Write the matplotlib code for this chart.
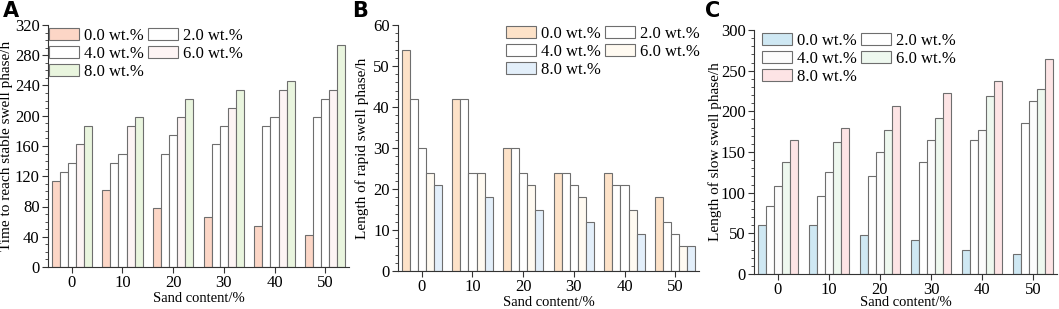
import numpy as np
import matplotlib
matplotlib.use("Agg")
import matplotlib.pyplot as plt
from matplotlib.ticker import MultipleLocator

# data
sand = [0, 10, 20, 30, 40, 50]
labels = ["0.0 wt.%", "2.0 wt.%", "4.0 wt.%", "6.0 wt.%", "8.0 wt.%"]

# A: time to reach stable swell phase (h), one list per wt.%
a_00 = [114, 102, 78, 66, 54, 42]
a_20 = [126, 138, 150, 162, 186, 198]
a_40 = [138, 150, 174, 186, 198, 222]
a_60 = [162, 186, 198, 210, 234, 234]
a_80 = [186, 198, 222, 234, 246, 294]

# B: length of rapid swell phase (h)
b_00 = [54, 42, 30, 24, 24, 18]
b_20 = [42, 42, 30, 24, 21, 12]
b_40 = [30, 24, 24, 21, 21, 9]
b_60 = [24, 24, 21, 18, 15, 6]
b_80 = [21, 18, 15, 12, 9, 6]

# C: length of slow swell phase (h)
c_00 = [60, 60, 48, 42, 30, 24]
c_20 = [84, 96, 120, 138, 165, 186]
c_40 = [108, 126, 150, 165, 177, 213]
c_60 = [138, 162, 177, 192, 219, 228]
c_80 = [165, 180, 207, 222, 237, 264]

plt.rcParams['font.family'] = ['Liberation Serif', 'DejaVu Serif']

W, H = 1059, 309
fig = plt.figure(figsize=(W / 100, H / 100), dpi=100)

# letter, series, colours, ylabel, ymax, major, minor,
# axes box (left, top, right, bottom in px), ylabel x px, xlabel y px,
# legend anchor (x, y in px, loc), letter x px
panels = [
    ("A", [a_00, a_20, a_40, a_60, a_80],
     ['#fcd6c6', '#ffffff', '#ffffff', '#fdf4f4', '#e9f5de'],
     "Time to reach stable swell phase/h", 320, 40, 10,
     (48, 25, 349, 267), 7, 298, (49, 28, 'upper left'), 3),
    ("B", [b_00, b_20, b_40, b_60, b_80],
     ['#fde2c8', '#ffffff', '#ffffff', '#fffaf1', '#e3effa'],
     "Length of rapid swell phase/h", 60, 10, 2,
     (398, 25, 699, 271), 362, 302, (700, 26, 'upper right'), 352),
    ("C", [c_00, c_20, c_40, c_60, c_80],
     ['#cfe8f3', '#ffffff', '#fcfcfc', '#eef8ef', '#fde4e5'],
     "Length of slow swell phase/h", 300, 50, 10,
     (754, 30, 1057, 274), 715, 302, (762, 33, 'upper left'), 705),
]

width = 1.6
x = np.array(sand, dtype=float)
order = [0, 2, 4, 1, 3]  # fill legend row by row

for (letter, series, colors, ylabel, ymax, major, minor, box, ylx, xly,
     leg, lx) in panels:
    l, t, r, b = box
    ax = fig.add_axes([l / W, 1 - b / H, (r - l) / W, (b - t) / H])
    for i, vals in enumerate(series):
        ax.bar(x + (i - 2) * width, vals, width, color=colors[i],
               edgecolor='#6e6e6e', linewidth=0.8, label=labels[i])
    ax.set_xlim(-4.7, 54.7)
    ax.set_ylim(0, ymax)
    ax.yaxis.set_major_locator(MultipleLocator(major))
    ax.yaxis.set_minor_locator(MultipleLocator(minor))
    ax.set_xticks(sand)
    ax.spines['top'].set_visible(False)
    ax.spines['right'].set_visible(False)
    for s in ['left', 'bottom']:
        ax.spines[s].set_color('#333333')
        ax.spines[s].set_linewidth(0.8)
    ax.tick_params(axis='both', which='major', labelsize=12, length=4,
                   width=0.8, color='#333333')
    ax.tick_params(axis='x', which='major', pad=1.5)
    ax.tick_params(axis='y', which='major', pad=2)
    ax.tick_params(axis='y', which='minor', length=2, width=0.6,
                   color='#333333')
    ax.set_xlabel("Sand content/%", fontsize=10.5, va='center')
    ax.xaxis.set_label_coords(0.5, -(xly - b) / (b - t))
    ax.set_ylabel(ylabel, fontsize=11, va='center')
    ax.yaxis.set_label_coords(-(l - ylx) / (r - l), 0.5)
    h_, l_ = ax.get_legend_handles_labels()
    ax.legend([h_[k] for k in order], [l_[k] for k in order], loc=leg[2],
              bbox_to_anchor=(leg[0] / W, 1 - leg[1] / H),
              bbox_transform=fig.transFigure,
              ncol=2, frameon=False, fontsize=12, borderpad=0,
              handlelength=1.8, handleheight=0.72, handletextpad=0.3,
              columnspacing=0.25, labelspacing=0.12, borderaxespad=0)
    fig.text(lx / W, 1 - 11 / H, letter, fontsize=15,
             fontweight='bold', family='DejaVu Sans', va='center', ha='left')

fig.savefig("out.png", dpi=100)
